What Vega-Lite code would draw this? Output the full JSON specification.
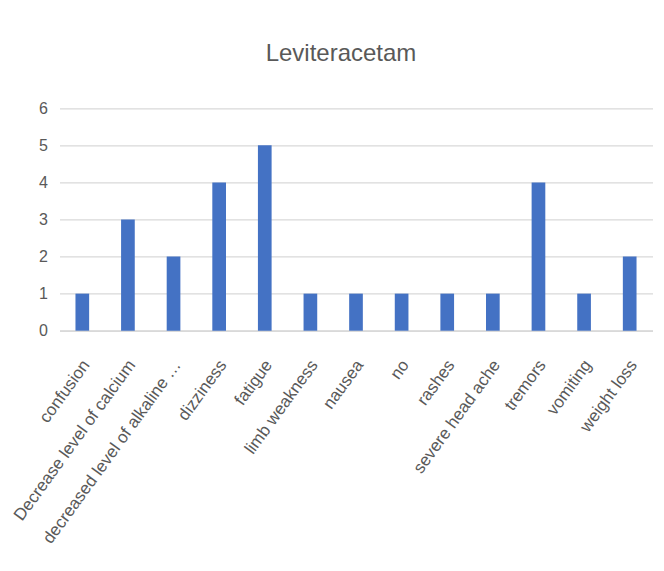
{
  "$schema": "https://vega.github.io/schema/vega-lite/v6.json",
  "autosize": "none",
  "width": 593,
  "height": 222.4,
  "padding": {"left": 59.5, "top": 108.3, "right": 11.5, "bottom": 240.3},
  "background": "white",
  "title": {
    "text": "Leviteracetam",
    "font": "Liberation Sans",
    "fontSize": 24,
    "fontWeight": "normal",
    "color": "#595959",
    "anchor": "middle",
    "baseline": "alphabetic",
    "offset": 15,
    "dx": -15
  },
  "data": {
    "values": [
      {"symptom": "confusion", "count": 1},
      {"symptom": "Decrease level of calcium", "count": 3},
      {"symptom": "decreased level of alkaline …", "count": 2},
      {"symptom": "dizziness", "count": 4},
      {"symptom": "fatigue", "count": 5},
      {"symptom": "limb weakness", "count": 1},
      {"symptom": "nausea", "count": 1},
      {"symptom": "no", "count": 1},
      {"symptom": "rashes", "count": 1},
      {"symptom": "severe head ache", "count": 1},
      {"symptom": "tremors", "count": 4},
      {"symptom": "vomiting", "count": 1},
      {"symptom": "weight loss", "count": 2}
    ]
  },
  "mark": {"type": "bar", "color": "#4472C4"},
  "encoding": {
    "x": {
      "field": "symptom",
      "type": "nominal",
      "sort": null,
      "scale": {"paddingInner": 0.7, "paddingOuter": 0.35},
      "axis": {
        "title": null,
        "domain": true,
        "domainColor": "#d9d9d9",
        "domainWidth": 1.5,
        "ticks": false,
        "labelAngle": -54,
        "labelAlign": "right",
        "labelBaseline": "middle",
        "labelPadding": 31,
        "labelOffset": 4,
        "labelFont": "Liberation Sans",
        "labelFontSize": 17,
        "labelColor": "#595959",
        "labelLimit": 0
      }
    },
    "y": {
      "field": "count",
      "type": "quantitative",
      "scale": {"domain": [0, 6]},
      "axis": {
        "title": null,
        "values": [0, 1, 2, 3, 4, 5, 6],
        "domain": false,
        "ticks": false,
        "grid": true,
        "gridColor": "#d9d9d9",
        "gridWidth": 1.3,
        "labelPadding": 12,
        "labelFont": "Liberation Sans",
        "labelFontSize": 16,
        "labelColor": "#595959"
      }
    }
  },
  "config": {"view": {"stroke": null}}
}
